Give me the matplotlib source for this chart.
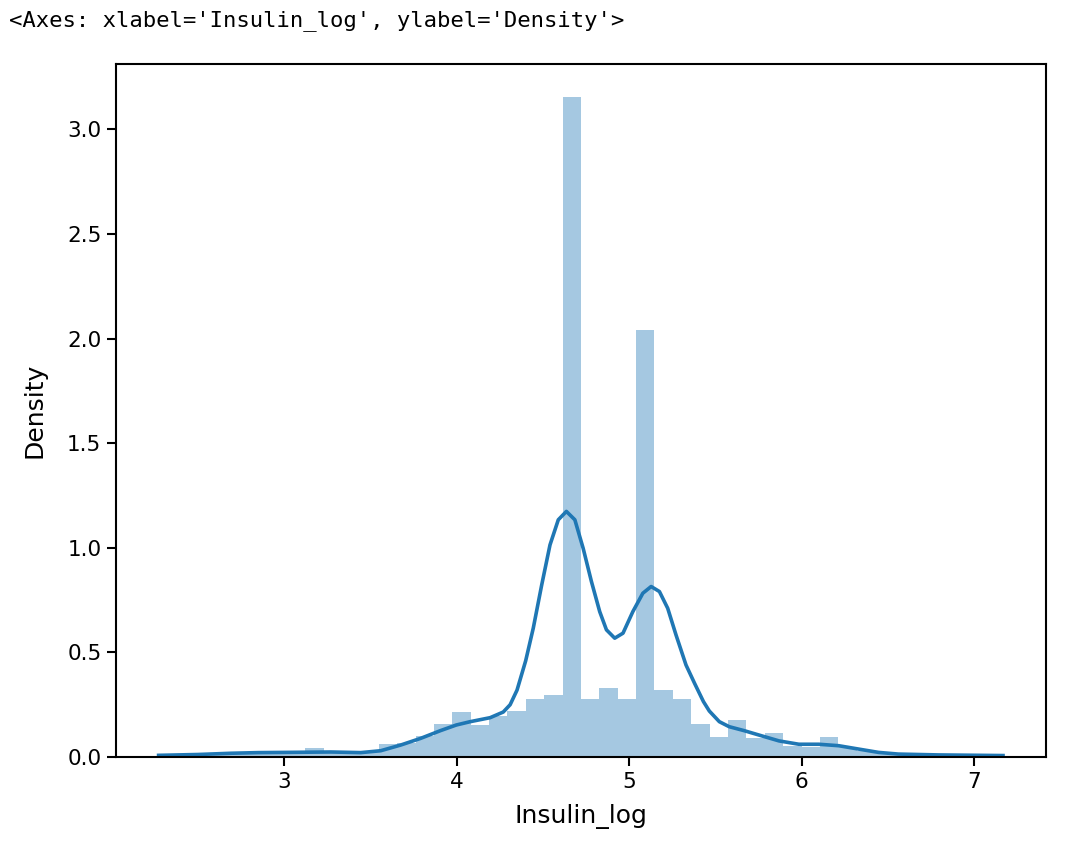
import numpy as np
import matplotlib
matplotlib.use('Agg')
import matplotlib.pyplot as plt

# histogram of Insulin_log (density), 46 equal bins
hist_start = 2.271
hist_end = 7.170
bar_heights = [0.010, 0.010, 0.010, 0.010, 0.020, 0.020, 0.020, 0.020, 0.041, 0.020,
               0.020, 0.025, 0.062, 0.067, 0.100, 0.158, 0.213, 0.153, 0.196, 0.222,
               0.276, 0.295, 3.155, 0.276, 0.329, 0.276, 2.043, 0.320, 0.276, 0.160,
               0.097, 0.176, 0.089, 0.113, 0.055, 0.048, 0.095, 0.046, 0.028, 0.018,
               0.012, 0.010, 0.010, 0.010, 0.010, 0.010]

# kde curve
kde_x = [2.273, 2.50, 2.694, 2.85, 3.0, 3.271, 3.444, 3.56, 3.675, 3.791,
         3.906, 3.998, 4.079, 4.194, 4.27, 4.31, 4.35, 4.40, 4.444, 4.493,
         4.541, 4.589, 4.636, 4.685, 4.733, 4.781, 4.829, 4.868, 4.916, 4.964,
         5.021, 5.079, 5.127, 5.175, 5.223, 5.271, 5.329, 5.38, 5.43, 5.464,
         5.522, 5.579, 5.666, 5.752, 5.868, 5.983, 6.099, 6.214, 6.329, 6.445,
         6.56, 6.791, 7.166]
kde_y = [0.008, 0.012, 0.018, 0.021, 0.022, 0.024, 0.021, 0.030, 0.057, 0.089,
         0.126, 0.153, 0.169, 0.188, 0.215, 0.250, 0.320, 0.460, 0.616, 0.823,
         1.014, 1.134, 1.174, 1.134, 0.998, 0.839, 0.695, 0.608, 0.568, 0.592,
         0.695, 0.783, 0.815, 0.791, 0.711, 0.584, 0.440, 0.350, 0.265, 0.220,
         0.169, 0.145, 0.126, 0.105, 0.077, 0.061, 0.061, 0.054, 0.038, 0.022,
         0.014, 0.010, 0.007]

fig = plt.figure(figsize=(10.81, 8.5), dpi=100)
ax = fig.add_axes([0.1073, 0.1094, 0.8603, 0.8153])

edges = np.linspace(hist_start, hist_end, len(bar_heights) + 1)
ax.bar(edges[:-1], bar_heights, width=edges[1] - edges[0], align='edge',
       color='#1f77b4', alpha=0.4, linewidth=0)
ax.plot(kde_x, kde_y, color='#1f77b4', linewidth=2.6, solid_joinstyle='round')

ax.set_xlabel('Insulin_log', fontsize=18, labelpad=9)
ax.set_ylabel('Density', fontsize=18, labelpad=15)
ax.tick_params(labelsize=15.5, length=6.5, width=1.5, pad=4)
for s in ax.spines.values():
    s.set_linewidth(1.5)

fig.text(0.008, 0.976, "<Axes: xlabel='Insulin_log', ylabel='Density'>",
         family='DejaVu Sans Mono', fontsize=16, va='center', ha='left')

fig.savefig('out.png', dpi=100)
